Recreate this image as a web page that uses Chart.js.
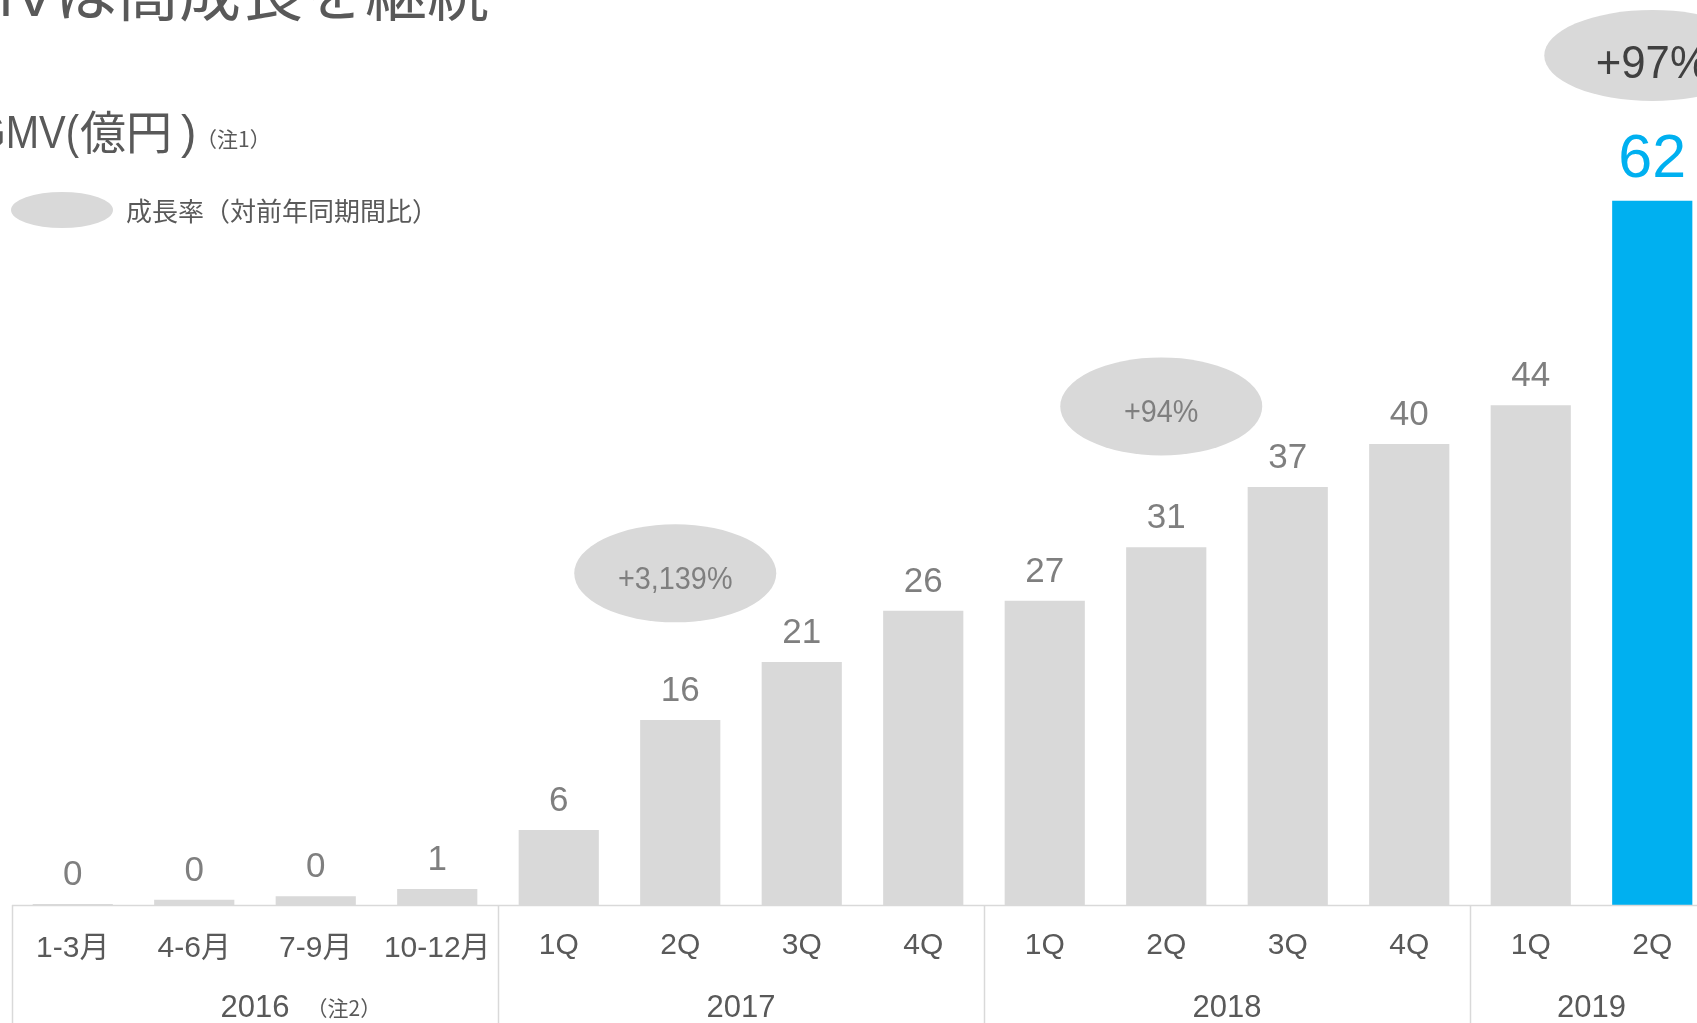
<!DOCTYPE html>
<html lang="ja">
<head>
<meta charset="utf-8">
<title>GMVは高成長を継続</title>
<script src="https://cdn.jsdelivr.net/npm/chart.js@4"></script>
<style>
	html, body { margin: 0; padding: 0; background: #fff; overflow: hidden; }
	#wrap { position: relative; width: 1697px; height: 1023px; overflow: hidden; }
	canvas { position: absolute; left: 0; top: 0; }
</style>
</head>
<body>
<div id="wrap"><canvas id="gmv" width="1720" height="1023"></canvas></div>
<script>
// GMV per quarter (億円), 2016 by month range, 2017- by quarter
const quarters = ['1-3月', '4-6月', '7-9月', '10-12月', '1Q', '2Q', '3Q', '4Q', '1Q', '2Q', '3Q', '4Q', '1Q', '2Q'];
const gmv = [0.08, 0.47, 0.76, 1.4, 6.6, 16.3, 21.4, 25.9, 26.8, 31.5, 36.8, 40.6, 44.0, 62.0];
const gmvText = ['0', '0', '0', '1', '6', '16', '21', '26', '27', '31', '37', '40', '44', '62'];

// year groups under the quarter labels
const years = ['2016', '2017', '2018', '2019'];
const yearStart = [0, 4, 8, 12];
const yearEnd = [3, 7, 11, 13];
const yearNote = ['（注2）', '', '', ''];

// growth-rate bubbles (YoY), anchored to a category and a y value
const growthIdx = [5, 9, 13];
const growthY = [29.2, 43.9, 74.8];
const growthText = ['+3,139%', '+94%', '+97%'];

const GRAY = '#d9d9d9';
const BLUE = '#00b0f0';
const TEXT = '#595959';
const LATIN = '"Liberation Sans", Arial, "Noto Sans CJK JP", sans-serif';
const CJK = '"Noto Sans CJK JP", "Liberation Sans", sans-serif';

const last = gmv.length - 1;

const decorations = {
	id: 'decorations',
	afterDraw(chart) {
		const { ctx, chartArea, scales: { x, y } } = chart;
		const base = y.getPixelForValue(0);
		const half = (x.getPixelForValue(1) - x.getPixelForValue(0)) / 2;
		ctx.save();

		// title / unit / legend
		ctx.fillStyle = TEXT;
		ctx.textAlign = 'right';
		ctx.textBaseline = 'alphabetic';
		ctx.font = '62px ' + LATIN;
		ctx.fillText('GMVは高成長を継続', 489, 16);
		// unit line: latin part is narrower in the source, squeeze it a bit
		ctx.save();
		ctx.font = '46px ' + LATIN;
		ctx.translate(79, 148);
		ctx.scale(0.87, 1);
		ctx.fillText('GMV(', 0, 0);
		ctx.restore();
		ctx.textAlign = 'left';
		ctx.font = '46px ' + CJK;
		ctx.fillText('億円', 80, 149);
		ctx.font = '46px ' + LATIN;
		ctx.fillText(')', 181, 148);
		ctx.font = '21px ' + CJK;
		ctx.fillText('（注1）', 196, 147);

		ctx.fillStyle = GRAY;
		ctx.beginPath();
		ctx.ellipse(62, 210, 51, 18, 0, 0, Math.PI * 2);
		ctx.fill();
		ctx.fillStyle = TEXT;
		ctx.font = '26px ' + CJK;
		ctx.fillText('成長率（対前年同期間比）', 126, 221);

		// growth bubbles
		growthIdx.forEach((idx, i) => {
			const big = idx === last;
			const cx = x.getPixelForValue(idx) - (big ? 0 : 5);
			const cy = y.getPixelForValue(growthY[i]);
			ctx.fillStyle = GRAY;
			ctx.beginPath();
			ctx.ellipse(cx, cy, big ? 108 : 101, big ? 45.5 : 49, 0, 0, Math.PI * 2);
			ctx.fill();
			ctx.textAlign = 'center';
			ctx.fillStyle = big ? '#404040' : '#7f7f7f';
			ctx.save();
			ctx.translate(cx, cy + (big ? 22.5 : 15.5));
			if (big) {
				ctx.font = '46px ' + LATIN;
				ctx.scale(0.95, 1);
			} else {
				ctx.font = '32px ' + LATIN;
				ctx.scale(0.9, 1);
			}
			ctx.fillText(growthText[i], 0, 0);
			ctx.restore();
		});

		// value labels above bars
		ctx.textAlign = 'center';
		gmv.forEach((v, i) => {
			const px = x.getPixelForValue(i);
			const top = y.getPixelForValue(v);
			if (i === last) {
				ctx.fillStyle = BLUE;
				ctx.font = '61px ' + LATIN;
				ctx.fillText(gmvText[i], px, top - 24);
			} else {
				ctx.fillStyle = '#7f7f7f';
				ctx.font = '35px ' + LATIN;
				ctx.fillText(gmvText[i], px, top - 19);
			}
		});

		// axis frame: baseline + year dividers
		ctx.strokeStyle = GRAY;
		ctx.lineWidth = 1.5;
		ctx.beginPath();
		ctx.moveTo(chartArea.left, base + 0.5);
		ctx.lineTo(chartArea.right, base + 0.5);
		yearStart.forEach(s => {
			const lx = Math.round(x.getPixelForValue(s) - half) + 0.5;
			ctx.moveTo(lx, base);
			ctx.lineTo(lx, chart.height);
		});
		ctx.stroke();

		// quarter labels (2016 month ranges sit a little lower)
		ctx.fillStyle = TEXT;
		ctx.font = '30px ' + LATIN;
		quarters.forEach((q, i) => ctx.fillText(q, x.getPixelForValue(i), i < 4 ? 957 : 954));

		// year labels, centred on their group
		years.forEach((yr, i) => {
			const cx = (x.getPixelForValue(yearStart[i]) + x.getPixelForValue(yearEnd[i])) / 2;
			ctx.textAlign = 'center';
			ctx.font = '31px ' + LATIN;
			ctx.fillText(yr, cx, 1017);
			if (yearNote[i]) {
				const w = ctx.measureText(yr).width;
				ctx.textAlign = 'left';
				ctx.font = '21px ' + CJK;
				ctx.fillText(yearNote[i], cx + w / 2 + 17, 1016);
			}
		});
		ctx.restore();
	},
};

new Chart(document.getElementById('gmv'), {
	type: 'bar',
	data: {
		labels: quarters,
		datasets: [{
			data: gmv,
			backgroundColor: gmv.map((_, i) => i === last ? BLUE : GRAY),
			borderWidth: 0,
			barPercentage: 0.66,
			categoryPercentage: 1,
		}],
	},
	options: {
		responsive: false,
		animation: false,
		layout: { padding: { left: 12, right: 7, top: 110, bottom: 118 } },
		scales: {
			x: { display: false },
			y: { display: false, min: 0, max: 70 },
		},
		plugins: {
			legend: { display: false },
			tooltip: { enabled: false },
		},
	},
	plugins: [decorations],
});
</script>
</body>
</html>
